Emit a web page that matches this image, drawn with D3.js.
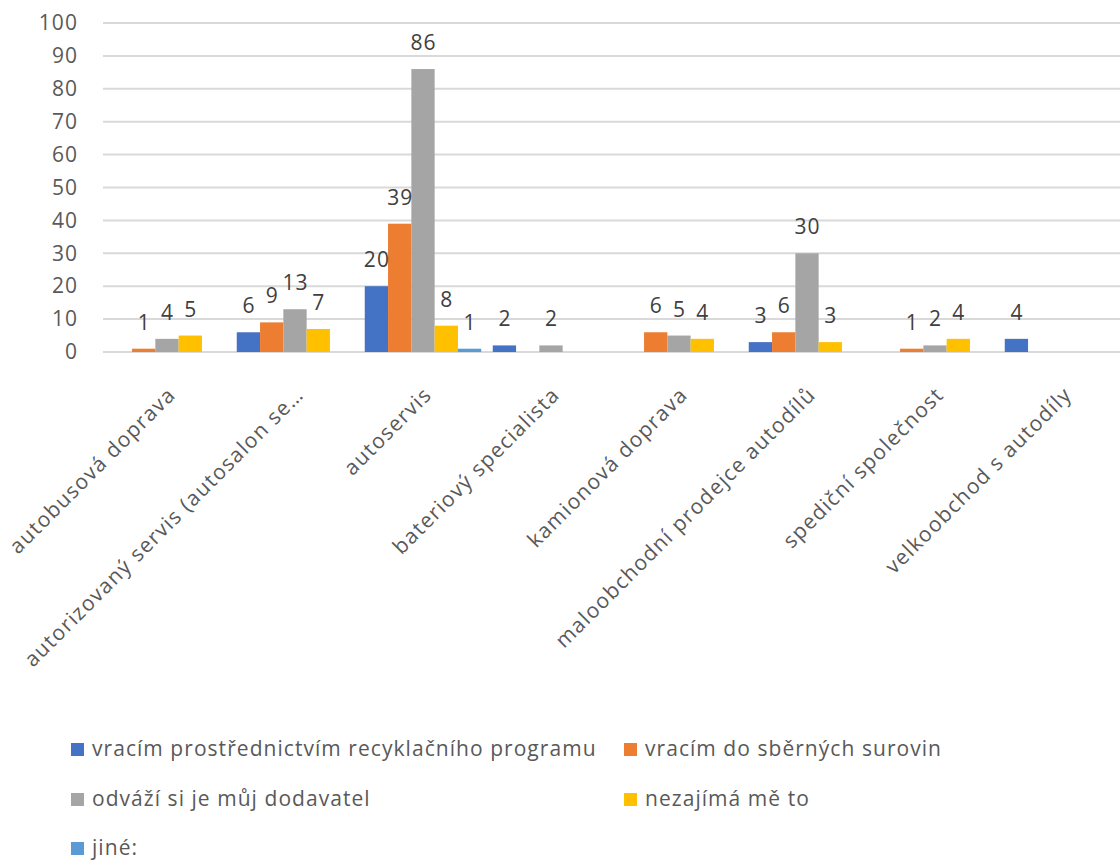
<!DOCTYPE html>
<html>
<head>
<meta charset="utf-8">
<script src="https://cdn.jsdelivr.net/npm/d3@7"></script>
<style>
  html, body { margin: 0; padding: 0; background: #fff; }
  svg { display: block; font-family: "Open Sans", sans-serif; }
  svg text { letter-spacing: 1.05px; }
  svg text.cat { letter-spacing: 1.3px; }
</style>
</head>
<body>
<svg id="chart" width="1120" height="860"></svg>
<script>
// Categories (as shown on the x axis)
const categories = [
  "autobusová doprava",
  "autorizovaný servis (autosalon se…",
  "autoservis",
  "bateriový specialista",
  "kamionová doprava",
  "maloobchodní prodejce autodílů",
  "spediční společnost",
  "velkoobchod s autodíly"
];

// Series names
const seriesNames = [
  "vracím prostřednictvím recyklačního programu",
  "vracím do sběrných surovin",
  "odváží si je můj dodavatel",
  "nezajímá mě to",
  "jiné:"
];

// Series values per category (null = no answer)
const recyklacniProgram = [null, 6, 20, 2, null, 3, null, 4];
const sberneSuroviny    = [1, 9, 39, null, 6, 6, 1, null];
const dodavatel         = [4, 13, 86, 2, 5, 30, 2, null];
const nezajimaMe        = [5, 7, 8, null, 4, 3, 4, null];
const jine              = [null, null, 1, null, null, null, null, null];

const yTicks = [0, 10, 20, 30, 40, 50, 60, 70, 80, 90, 100];

const seriesValues = [recyklacniProgram, sberneSuroviny, dodavatel, nezajimaMe, jine];
const colors = ["#4472C4", "#ED7D31", "#A5A5A5", "#FFC000", "#5B9BD5"];

const svg = d3.select("#chart");

const plot = { left: 103, right: 1127, top: 23, bottom: 352 };

const x0 = d3.scaleBand()
  .domain(categories)
  .range([plot.left, plot.right])
  .paddingInner(0.09)
  .paddingOuter(0.045);

const x1 = d3.scaleBand()
  .domain(seriesNames)
  .range([0, x0.bandwidth()])
  .padding(0);

const y = d3.scaleLinear()
  .domain([0, 100])
  .range([plot.bottom, plot.top]);

// Horizontal gridlines
svg.append("g")
  .selectAll("line")
  .data(yTicks)
  .join("line")
  .attr("x1", plot.left)
  .attr("x2", plot.right)
  .attr("y1", d => y(d))
  .attr("y2", d => y(d))
  .attr("stroke", "#d9d9d9")
  .attr("stroke-width", 2);

// Y axis labels
const yAxis = d3.axisLeft(y).tickValues(yTicks).tickSize(0).tickPadding(0);
const gy = svg.append("g")
  .attr("transform", `translate(${plot.left - 25},0)`)
  .call(yAxis);
gy.select(".domain").remove();
gy.selectAll("text")
  .attr("font-family", "Open Sans, sans-serif")
  .attr("font-size", 21)
  .attr("fill", "#595959");

// Flattened bar records
const bars = [];
categories.forEach((c, ci) => {
  seriesNames.forEach((s, si) => {
    const v = seriesValues[si][ci];
    if (v !== null && v !== undefined) bars.push({ cat: c, series: s, si, value: v });
  });
});

// Bars
svg.append("g")
  .selectAll("rect")
  .data(bars)
  .join("rect")
  .attr("x", d => x0(d.cat) + x1(d.series))
  .attr("y", d => y(d.value))
  .attr("width", x1.bandwidth())
  .attr("height", d => y(0) - y(d.value))
  .attr("fill", d => colors[d.si]);

// Value labels
svg.append("g")
  .selectAll("text")
  .data(bars)
  .join("text")
  .attr("x", d => x0(d.cat) + x1(d.series) + x1.bandwidth() / 2 + 0.5)
  .attr("y", d => y(d.value) - 19)
  .attr("text-anchor", "middle")
  .attr("font-size", 21)
  .attr("fill", "#404040")
  .text(d => d.value);

// Category labels, rotated
svg.append("g")
  .selectAll("text")
  .data(categories)
  .join("text")
  .attr("class", "cat")
  .attr("transform", d => `translate(${x0(d) + x0.bandwidth() / 2 + 10},${plot.bottom + 44}) rotate(-45)`)
  .attr("text-anchor", "end")
  .attr("font-size", 21)
  .attr("fill", "#595959")
  .text(d => d);

// Legend
const legendItems = [
  { name: seriesNames[0], color: colors[0], x: 71, y: 749.5 },
  { name: seriesNames[1], color: colors[1], x: 624, y: 749.5 },
  { name: seriesNames[2], color: colors[2], x: 71, y: 799.5 },
  { name: seriesNames[3], color: colors[3], x: 624, y: 799.5 },
  { name: seriesNames[4], color: colors[4], x: 71, y: 848.5 }
];
const lg = svg.append("g")
  .selectAll("g")
  .data(legendItems)
  .join("g")
  .attr("transform", d => `translate(${d.x},${d.y})`);
lg.append("rect")
  .attr("x", 0).attr("y", -6.5)
  .attr("width", 13).attr("height", 13)
  .attr("fill", d => d.color);
lg.append("text")
  .attr("x", 21)
  .attr("dy", "0.3em")
  .attr("font-size", 21)
  .attr("fill", "#595959")
  .text(d => d.name);
</script>
</body>
</html>
